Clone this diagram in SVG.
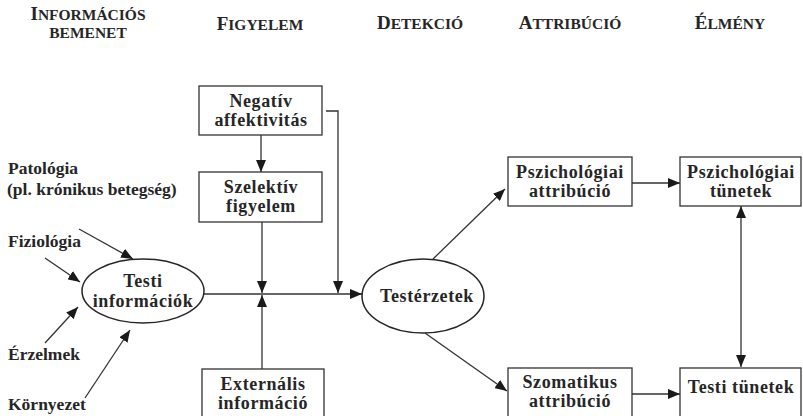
<svg xmlns="http://www.w3.org/2000/svg" width="803" height="416" viewBox="0 0 803 416" font-family="'Liberation Serif', 'Times New Roman', Times, serif">
  <style>
    text { font-family: 'Liberation Serif', 'Times New Roman', Times, serif; font-weight: 700; fill: #262626; }
    .hd { text-anchor: middle; }
    .big { font-size: 19px; }
    .sm { font-size: 15.5px; }
    .lbl { font-size: 17.5px; }
    .txt { font-size: 18px; letter-spacing: 0.6px; text-anchor: middle; }
    .box { fill: #ffffff; stroke: #333333; stroke-width: 1.3; }
    .ell { fill: #ffffff; stroke: #262626; stroke-width: 1.5; }
    .con { fill: none; stroke: #333333; stroke-width: 1.3; }
  </style>
  <defs>
    <marker id="arrow" viewBox="0 0 12 10" refX="12" refY="5" markerWidth="12" markerHeight="10" markerUnits="userSpaceOnUse" orient="auto">
      <path d="M0,0 L12,5 L0,10 Z" fill="#1a1a1a"/>
    </marker>
    <marker id="arrowStart" viewBox="0 0 12 10" refX="12" refY="5" markerWidth="12" markerHeight="10" markerUnits="userSpaceOnUse" orient="auto-start-reverse">
      <path d="M0,0 L12,5 L0,10 Z" fill="#1a1a1a"/>
    </marker>
  </defs>
  <rect width="803" height="416" fill="#ffffff"/>

  <!-- column headings -->
  <g id="headings">
    <text class="hd" x="88" y="20"><tspan class="big">I</tspan><tspan class="sm">NFORMÁCIÓS</tspan></text>
    <text class="hd sm" x="88" y="38">BEMENET</text>
    <text class="hd" x="260" y="30"><tspan class="big">F</tspan><tspan class="sm">IGYELEM</tspan></text>
    <text class="hd" x="420" y="29"><tspan class="big">D</tspan><tspan class="sm">ETEKCIÓ</tspan></text>
    <text class="hd" x="570" y="29"><tspan class="big">A</tspan><tspan class="sm">TTRIBÚCIÓ</tspan></text>
    <text class="hd" x="730" y="29"><tspan class="big">É</tspan><tspan class="sm">LMÉNY</tspan></text>
  </g>

  <!-- input labels -->
  <g id="input-patologia">
    <text class="lbl" x="8" y="174">Patológia</text>
    <text class="lbl" x="7" y="195">(pl. krónikus betegség)</text>
  </g>
  <g id="input-fiziologia"><text class="lbl" x="8" y="247">Fiziológia</text></g>
  <g id="input-erzelmek"><text class="lbl" x="8" y="360">Érzelmek</text></g>
  <g id="input-kornyezet"><text class="lbl" x="8" y="410">Környezet</text></g>

  <!-- connectors -->
  <g id="connectors">
    <line class="con" x1="79" y1="229" x2="133" y2="259" marker-end="url(#arrow)"/>
    <line class="con" x1="45" y1="258" x2="80" y2="282" marker-end="url(#arrow)"/>
    <line class="con" x1="45" y1="343" x2="78" y2="307" marker-end="url(#arrow)"/>
    <line class="con" x1="85" y1="398" x2="130" y2="330" marker-end="url(#arrow)"/>
    <line class="con" x1="261" y1="135" x2="261" y2="172" marker-end="url(#arrow)"/>
    <line class="con" x1="262" y1="222" x2="262" y2="293" marker-end="url(#arrow)"/>
    <line class="con" x1="262" y1="369" x2="262" y2="295" marker-end="url(#arrow)"/>
    <polyline class="con" points="326,111 338,111 338,293" marker-end="url(#arrow)"/>
    <line class="con" x1="204" y1="294" x2="362" y2="294" marker-end="url(#arrow)"/>
    <line class="con" x1="433" y1="259" x2="505" y2="189" marker-end="url(#arrow)"/>
    <line class="con" x1="425" y1="333" x2="507" y2="391" marker-end="url(#arrow)"/>
    <line class="con" x1="632" y1="183" x2="680" y2="183" marker-end="url(#arrow)"/>
    <line class="con" x1="632" y1="394" x2="680" y2="394" marker-end="url(#arrow)"/>
    <line class="con" x1="741" y1="206" x2="741" y2="367" marker-start="url(#arrowStart)" marker-end="url(#arrow)"/>
  </g>

  <!-- nodes -->
  <g id="testi-informaciok">
    <ellipse class="ell" cx="143" cy="291" rx="61" ry="32"/>
    <text class="txt" x="143" y="287">Testi</text>
    <text class="txt" x="143" y="307">információk</text>
  </g>
  <g id="negativ-affektivitas">
    <rect class="box" x="199" y="86" width="123" height="49"/>
    <text class="txt" x="261" y="107">Negatív</text>
    <text class="txt" x="261" y="126">affektivitás</text>
  </g>
  <g id="szelektiv-figyelem">
    <rect class="box" x="199" y="172" width="123" height="50"/>
    <text class="txt" x="261" y="193">Szelektív</text>
    <text class="txt" x="261" y="212">figyelem</text>
  </g>
  <g id="externalis-informacio">
    <rect class="box" x="202" y="369" width="122" height="52"/>
    <text class="txt" x="263" y="390">Externális</text>
    <text class="txt" x="263" y="409">információ</text>
  </g>
  <g id="testerzetek">
    <ellipse class="ell" cx="423" cy="296" rx="61" ry="37"/>
    <text class="txt" x="427" y="302">Testérzetek</text>
  </g>
  <g id="pszichologiai-attribucio">
    <rect class="box" x="508" y="157" width="124" height="49"/>
    <text class="txt" x="570" y="178">Pszichológiai</text>
    <text class="txt" x="570" y="197">attribúció</text>
  </g>
  <g id="szomatikus-attribucio">
    <rect class="box" x="508" y="368" width="124" height="53"/>
    <text class="txt" x="570" y="388">Szomatikus</text>
    <text class="txt" x="570" y="407">attribúció</text>
  </g>
  <g id="pszichologiai-tunetek">
    <rect class="box" x="680" y="157" width="121" height="49"/>
    <text class="txt" x="741" y="178">Pszichológiai</text>
    <text class="txt" x="741" y="197">tünetek</text>
  </g>
  <g id="testi-tunetek">
    <rect class="box" x="680" y="368" width="121" height="53"/>
    <text class="txt" x="741" y="393">Testi tünetek</text>
  </g>
</svg>
